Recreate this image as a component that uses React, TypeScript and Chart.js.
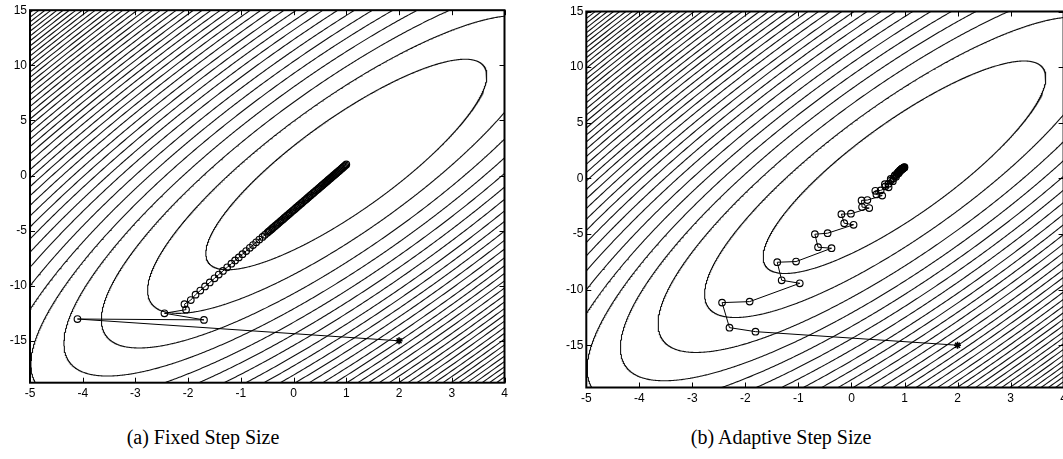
import React, { useEffect, useRef } from "react";
import { Chart, registerables } from "chart.js";

Chart.register(...registerables);

// ---- axes ----
const xTicks = [-5, -4, -3, -2, -1, 0, 1, 2, 3, 4];
const yTicks = [-15, -10, -5, 0, 5, 10, 15];
const xMin = -5;
const xMax = 4;
const yMin = -18.8;
const yMax = 15;

// ---- quadratic objective (contours): f = A u^2 + 2B uv + C v^2, u=x-1, v=y-1 ----
const minimum = [1, 1];
const quadA = 12.84;
const quadB = -3.03;
const quadC = 1;
const contourLevels = [
  26, 52, 79, 105, 131, 157, 183, 210, 236, 262, 288, 314, 341, 367, 393,
  419, 445, 472, 498, 524, 550, 576, 603, 629, 655, 681, 707, 734, 760, 786,
  812, 838, 865, 891, 917, 943, 969, 996, 1022, 1048, 1074, 1100, 1127, 1153,
];

// ---- iterates (first point = start, drawn as a star) ----
const fixedPath: [number, number][] = [
  [2, -15], [-4.1, -13.02], [-1.7, -13.1], [-2.45, -12.5], [-2.04, -12.17],
  [-2.07, -11.68], [-1.95, -11.3], [-1.86, -10.81], [-1.77, -10.44], [-1.68, -10.07],
  [-1.59, -9.7], [-1.5, -9.33], [-1.42, -8.99], [-1.34, -8.66], [-1.26, -8.33],
  [-1.18, -8.0], [-1.11, -7.71], [-1.04, -7.43], [-0.97, -7.14], [-0.9, -6.85],
  [-0.83, -6.56], [-0.77, -6.31], [-0.71, -6.06], [-0.65, -5.81], [-0.59, -5.57],
  [-0.545, -5.38], [-0.5, -5.2], [-0.475, -5.09], [-0.45, -4.99], [-0.425, -4.89],
  [-0.4, -4.78], [-0.375, -4.68], [-0.35, -4.58], [-0.325, -4.47], [-0.3, -4.37],
  [-0.275, -4.27], [-0.25, -4.16], [-0.225, -4.06], [-0.2, -3.96], [-0.175, -3.85],
  [-0.15, -3.75], [-0.125, -3.65], [-0.1, -3.54], [-0.075, -3.44], [-0.05, -3.34],
  [-0.025, -3.23], [0.0, -3.13], [0.025, -3.03], [0.05, -2.92], [0.075, -2.82],
  [0.1, -2.72], [0.125, -2.61], [0.15, -2.51], [0.175, -2.41], [0.2, -2.3],
  [0.225, -2.2], [0.25, -2.1], [0.275, -1.99], [0.3, -1.89], [0.325, -1.79],
  [0.35, -1.68], [0.375, -1.58], [0.4, -1.48], [0.425, -1.37], [0.45, -1.27],
  [0.475, -1.17], [0.5, -1.07], [0.52, -0.98], [0.54, -0.9], [0.56, -0.82],
  [0.58, -0.73], [0.6, -0.65], [0.62, -0.57], [0.64, -0.49], [0.66, -0.4],
  [0.68, -0.32], [0.7, -0.24], [0.72, -0.16], [0.74, -0.07], [0.76, 0.01],
  [0.78, 0.09], [0.8, 0.17], [0.82, 0.26], [0.84, 0.34], [0.86, 0.42],
  [0.88, 0.5], [0.9, 0.59], [0.92, 0.67], [0.94, 0.75], [0.96, 0.83],
  [0.98, 0.92], [1.0, 1.0],
];

const adaptivePath: [number, number][] = [
  [2, -15], [-1.81, -13.78], [-2.3, -13.42], [-2.44, -11.17], [-1.92, -11.08],
  [-0.975, -9.43], [-1.316, -9.16], [-1.4, -7.54], [-1.045, -7.48], [-0.376, -6.28],
  [-0.63, -6.19], [-0.69, -5.02], [-0.45, -4.93], [0.04, -4.17], [-0.137, -4.03],
  [-0.19, -3.22], [-0.01, -3.18], [0.335, -2.67], [0.2, -2.58], [0.19, -1.98],
  [0.3, -1.95], [0.58, -1.55], [0.47, -1.45], [0.45, -1.12], [0.55, -1.08],
  [0.7, -0.8], [0.64, -0.72], [0.63, -0.52], [0.7, -0.48], [0.78, -0.25],
  [0.74, -0.2], [0.74, -0.05], [0.79, -0.02], [0.84, 0.15], [0.81, 0.19],
  [0.82, 0.3], [0.85, 0.33], [0.89, 0.46], [0.87, 0.49], [0.88, 0.57],
  [0.9, 0.59], [0.92, 0.67], [0.91, 0.69], [0.92, 0.74], [0.93, 0.75],
  [0.95, 0.8], [0.94, 0.82], [0.95, 0.85], [0.96, 0.86], [0.97, 0.89],
  [0.965, 0.905], [0.97, 0.92], [0.98, 0.93], [0.985, 0.95], [0.99, 0.96],
  [0.995, 0.98], [1, 1],
];

const captions = ["(a) Fixed Step Size", "(b) Adaptive Step Size"];

// ---- helpers ----
function contourPoints(level: number) {
  const pts: { x: number; y: number }[] = [];
  const su = Math.sqrt(level / (quadA - (quadB * quadB) / quadC));
  const sv = Math.sqrt(level / quadC);
  const n = 1440;
  for (let i = 0; i <= n; i++) {
    const t = (2 * Math.PI * i) / n;
    const u = su * Math.sin(t);
    const v = (-quadB / quadC) * u + sv * Math.cos(t);
    pts.push({ x: minimum[0] + u, y: minimum[1] + v });
  }
  return pts;
}

const framePlugin = {
  id: "matlabFrame",
  afterDatasetsDraw(chart: any) {
    const { ctx, chartArea: a, scales } = chart;
    ctx.save();
    ctx.strokeStyle = "#000";
    ctx.lineWidth = 1;
    ctx.beginPath();
    for (const v of xTicks) {
      const px = Math.round(scales.x.getPixelForValue(v)) + 0.5;
      ctx.moveTo(px, a.bottom);
      ctx.lineTo(px, a.bottom - 5);
      ctx.moveTo(px, a.top);
      ctx.lineTo(px, a.top + 5);
    }
    for (const v of yTicks) {
      const py = Math.round(scales.y.getPixelForValue(v)) + 0.5;
      ctx.moveTo(a.left, py);
      ctx.lineTo(a.left + 5, py);
      ctx.moveTo(a.right, py);
      ctx.lineTo(a.right - 5, py);
    }
    ctx.stroke();
    ctx.lineWidth = 2;
    ctx.strokeRect(a.left, a.top, a.right - a.left, a.bottom - a.top);
    ctx.restore();
  },
};

type PanelProps = {
  path: [number, number][];
  left: number;
  width: number;
  height: number;
  padding: { left: number; right: number; top: number; bottom: number };
  yAxisWidth: number;
  xAxisHeight: number;
};

function Panel({ path, left, width, height, padding, yAxisWidth, xAxisHeight }: PanelProps) {
  const ref = useRef<HTMLCanvasElement>(null);
  useEffect(() => {
    const tickFont = { family: "'Liberation Sans', Arial, sans-serif", size: 12 };
    const contours = contourLevels.map((lv) => ({
      data: contourPoints(lv),
      borderColor: "#111",
      borderWidth: 1.1,
      pointRadius: 0,
      fill: false,
      tension: 0,
      clip: 0,
    }));
    const pathData = path.map(([x, y]) => ({ x, y }));
    const chart = new Chart(ref.current as HTMLCanvasElement, {
      type: "line",
      data: {
        datasets: [
          {
            data: [pathData[0]],
            showLine: false,
            pointStyle: "star",
            pointRadius: 3.5,
            pointBorderWidth: 1.6,
            pointBorderColor: "#000",
            pointBackgroundColor: "#000",
          } as any,
          {
            data: pathData,
            borderColor: "#000",
            borderWidth: 1,
            tension: 0,
            fill: false,
            pointStyle: "circle",
            pointRadius: (c: any) => (c.dataIndex === 0 ? 0 : 3.3),
            pointBorderWidth: 1.15,
            pointBorderColor: "#000",
            pointBackgroundColor: "rgba(0,0,0,0)",
          } as any,
          ...(contours as any[]),
        ],
      },
      options: {
        responsive: false,
        maintainAspectRatio: false,
        animation: false,
        devicePixelRatio: 1,
        events: [],
        parsing: false,
        normalized: true,
        layout: { padding },
        plugins: { legend: { display: false }, tooltip: { enabled: false } },
        scales: {
          x: {
            type: "linear",
            min: xMin,
            max: xMax,
            afterBuildTicks: (s: any) => {
              s.ticks = xTicks.map((v) => ({ value: v }));
            },
            afterFit: (s: any) => {
              s.height = xAxisHeight;
            },
            grid: { display: false, drawTicks: false },
            border: { display: false },
            ticks: { font: tickFont, color: "#000", padding: 4, autoSkip: false, maxRotation: 0 },
          },
          y: {
            type: "linear",
            min: yMin,
            max: yMax,
            afterBuildTicks: (s: any) => {
              s.ticks = yTicks.map((v) => ({ value: v }));
            },
            afterFit: (s: any) => {
              s.width = yAxisWidth;
            },
            grid: { display: false, drawTicks: false },
            border: { display: false },
            ticks: { font: tickFont, color: "#000", padding: 3, autoSkip: false },
          },
        },
      } as any,
      plugins: [framePlugin],
    });
    return () => chart.destroy();
  }, []);
  return (
    <canvas
      ref={ref}
      width={width}
      height={height}
      style={{ position: "absolute", left, top: 0, width, height }}
    />
  );
}

export default function App() {
  const captionStyle: React.CSSProperties = {
    position: "absolute",
    top: 424,
    width: 400,
    textAlign: "center",
    fontFamily: "'Liberation Serif', 'DejaVu Serif', serif",
    fontSize: 20,
    lineHeight: "26px",
    color: "#000",
    whiteSpace: "nowrap",
  };
  return (
    <div
      style={{
        position: "absolute",
        left: 0,
        top: 0,
        width: 1063,
        height: 459,
        overflow: "hidden",
        background: "#fff",
      }}
    >
      <Panel
        path={fixedPath}
        left={0}
        width={520}
        height={410}
        padding={{ left: 0, right: 15.5, top: 10, bottom: 0 }}
        yAxisWidth={30}
        xAxisHeight={27.3}
      />
      <Panel
        path={adaptivePath}
        left={556}
        width={520}
        height={410}
        padding={{ left: 0, right: 12.4, top: 11.5, bottom: 0 }}
        yAxisWidth={30.3}
        xAxisHeight={22.5}
      />
      <div style={{ ...captionStyle, left: 203 - 200 }}>{captions[0]}</div>
      <div style={{ ...captionStyle, left: 781 - 200 }}>{captions[1]}</div>
    </div>
  );
}
